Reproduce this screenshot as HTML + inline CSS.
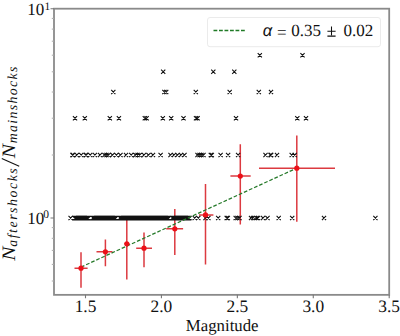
<!DOCTYPE html>
<html><head><meta charset="utf-8"><style>
html,body{margin:0;padding:0;background:#fff;}
svg{display:block;}
text{font-family:"Liberation Serif",serif;font-size:17px;fill:#111;text-rendering:geometricPrecision;}
</style></head><body>
<svg width="400" height="336" viewBox="0 0 400 336">
<path d="M74.5 268.2H87.6M81 252.3V287.7M96.5 251.8H112.5M105.4 239.5V266.3M124.5 243.8H129.5M126.8 218V279.5M136.2 248.2H152M144 232.5V267.2M166.2 228.8H183.1M174.8 209V255M199 214.9H213.4M205.5 184V264.5M230.4 176.1H250.7M240.3 144.3V224.6M259 168.2H335M296.8 135.4V221.8" stroke="#dc3a40" stroke-width="1.5" fill="none"/>
<path d="M68.5 215.9L72.7 220.1M68.5 220.1L72.7 215.9M72.5 215.9L76.7 220.1M72.5 220.1L76.7 215.9M73.5 215.9L77.7 220.1M73.5 220.1L77.7 215.9M74.5 215.9L78.7 220.1M74.5 220.1L78.7 215.9M75.5 215.9L79.7 220.1M75.5 220.1L79.7 215.9M76.5 215.9L80.7 220.1M76.5 220.1L80.7 215.9M77.5 215.9L81.7 220.1M77.5 220.1L81.7 215.9M78.5 215.9L82.7 220.1M78.5 220.1L82.7 215.9M79.5 215.9L83.7 220.1M79.5 220.1L83.7 215.9M80.5 215.9L84.7 220.1M80.5 220.1L84.7 215.9M81.5 215.9L85.7 220.1M81.5 220.1L85.7 215.9M82.5 215.9L86.7 220.1M82.5 220.1L86.7 215.9M83.5 215.9L87.7 220.1M83.5 220.1L87.7 215.9M84.5 215.9L88.7 220.1M84.5 220.1L88.7 215.9M85.5 215.9L89.7 220.1M85.5 220.1L89.7 215.9M86.5 215.9L90.7 220.1M86.5 220.1L90.7 215.9M90.9 215.9L95.1 220.1M90.9 220.1L95.1 215.9M91.9 215.9L96.1 220.1M91.9 220.1L96.1 215.9M92.9 215.9L97.1 220.1M92.9 220.1L97.1 215.9M93.9 215.9L98.1 220.1M93.9 220.1L98.1 215.9M94.9 215.9L99.1 220.1M94.9 220.1L99.1 215.9M95.9 215.9L100.1 220.1M95.9 220.1L100.1 215.9M96.9 215.9L101.1 220.1M96.9 220.1L101.1 215.9M97.9 215.9L102.1 220.1M97.9 220.1L102.1 215.9M98.9 215.9L103.1 220.1M98.9 220.1L103.1 215.9M99.9 215.9L104.1 220.1M99.9 220.1L104.1 215.9M100.9 215.9L105.1 220.1M100.9 220.1L105.1 215.9M101.9 215.9L106.1 220.1M101.9 220.1L106.1 215.9M102.9 215.9L107.1 220.1M102.9 220.1L107.1 215.9M103.9 215.9L108.1 220.1M103.9 220.1L108.1 215.9M104.9 215.9L109.1 220.1M104.9 220.1L109.1 215.9M105.9 215.9L110.1 220.1M105.9 220.1L110.1 215.9M106.9 215.9L111.1 220.1M106.9 220.1L111.1 215.9M107.9 215.9L112.1 220.1M107.9 220.1L112.1 215.9M108.9 215.9L113.1 220.1M108.9 220.1L113.1 215.9M109.9 215.9L114.1 220.1M109.9 220.1L114.1 215.9M110.9 215.9L115.1 220.1M110.9 220.1L115.1 215.9M111.9 215.9L116.1 220.1M111.9 220.1L116.1 215.9M112.9 215.9L117.1 220.1M112.9 220.1L117.1 215.9M113.9 215.9L118.1 220.1M113.9 220.1L118.1 215.9M117.9 215.9L122.1 220.1M117.9 220.1L122.1 215.9M118.9 215.9L123.1 220.1M118.9 220.1L123.1 215.9M119.9 215.9L124.1 220.1M119.9 220.1L124.1 215.9M120.9 215.9L125.1 220.1M120.9 220.1L125.1 215.9M121.9 215.9L126.1 220.1M121.9 220.1L126.1 215.9M122.9 215.9L127.1 220.1M122.9 220.1L127.1 215.9M123.9 215.9L128.1 220.1M123.9 220.1L128.1 215.9M124.9 215.9L129.1 220.1M124.9 220.1L129.1 215.9M125.9 215.9L130.1 220.1M125.9 220.1L130.1 215.9M126.9 215.9L131.1 220.1M126.9 220.1L131.1 215.9M127.9 215.9L132.1 220.1M127.9 220.1L132.1 215.9M128.9 215.9L133.1 220.1M128.9 220.1L133.1 215.9M129.9 215.9L134.1 220.1M129.9 220.1L134.1 215.9M130.9 215.9L135.1 220.1M130.9 220.1L135.1 215.9M131.9 215.9L136.1 220.1M131.9 220.1L136.1 215.9M132.9 215.9L137.1 220.1M132.9 220.1L137.1 215.9M133.9 215.9L138.1 220.1M133.9 220.1L138.1 215.9M134.9 215.9L139.1 220.1M134.9 220.1L139.1 215.9M135.9 215.9L140.1 220.1M135.9 220.1L140.1 215.9M136.9 215.9L141.1 220.1M136.9 220.1L141.1 215.9M137.9 215.9L142.1 220.1M137.9 220.1L142.1 215.9M138.9 215.9L143.1 220.1M138.9 220.1L143.1 215.9M139.9 215.9L144.1 220.1M139.9 220.1L144.1 215.9M140.9 215.9L145.1 220.1M140.9 220.1L145.1 215.9M141.9 215.9L146.1 220.1M141.9 220.1L146.1 215.9M142.9 215.9L147.1 220.1M142.9 220.1L147.1 215.9M143.9 215.9L148.1 220.1M143.9 220.1L148.1 215.9M144.9 215.9L149.1 220.1M144.9 220.1L149.1 215.9M145.9 215.9L150.1 220.1M145.9 220.1L150.1 215.9M146.9 215.9L151.1 220.1M146.9 220.1L151.1 215.9M147.9 215.9L152.1 220.1M147.9 220.1L152.1 215.9M148.9 215.9L153.1 220.1M148.9 220.1L153.1 215.9M149.9 215.9L154.1 220.1M149.9 220.1L154.1 215.9M150.9 215.9L155.1 220.1M150.9 220.1L155.1 215.9M151.9 215.9L156.1 220.1M151.9 220.1L156.1 215.9M152.9 215.9L157.1 220.1M152.9 220.1L157.1 215.9M153.9 215.9L158.1 220.1M153.9 220.1L158.1 215.9M154.9 215.9L159.1 220.1M154.9 220.1L159.1 215.9M155.9 215.9L160.1 220.1M155.9 220.1L160.1 215.9M156.9 215.9L161.1 220.1M156.9 220.1L161.1 215.9M157.9 215.9L162.1 220.1M157.9 220.1L162.1 215.9M158.9 215.9L163.1 220.1M158.9 220.1L163.1 215.9M159.9 215.9L164.1 220.1M159.9 220.1L164.1 215.9M160.9 215.9L165.1 220.1M160.9 220.1L165.1 215.9M161.9 215.9L166.1 220.1M161.9 220.1L166.1 215.9M162.9 215.9L167.1 220.1M162.9 220.1L167.1 215.9M163.9 215.9L168.1 220.1M163.9 220.1L168.1 215.9M164.9 215.9L169.1 220.1M164.9 220.1L169.1 215.9M165.9 215.9L170.1 220.1M165.9 220.1L170.1 215.9M166.9 215.9L171.1 220.1M166.9 220.1L171.1 215.9M170.4 215.9L174.6 220.1M170.4 220.1L174.6 215.9M171.4 215.9L175.6 220.1M171.4 220.1L175.6 215.9M172.4 215.9L176.6 220.1M172.4 220.1L176.6 215.9M173.4 215.9L177.6 220.1M173.4 220.1L177.6 215.9M174.4 215.9L178.6 220.1M174.4 220.1L178.6 215.9M175.4 215.9L179.6 220.1M175.4 220.1L179.6 215.9M176.4 215.9L180.6 220.1M176.4 220.1L180.6 215.9M177.4 215.9L181.6 220.1M177.4 220.1L181.6 215.9M178.4 215.9L182.6 220.1M178.4 220.1L182.6 215.9M179.4 215.9L183.6 220.1M179.4 220.1L183.6 215.9M180.4 215.9L184.6 220.1M180.4 220.1L184.6 215.9M181.4 215.9L185.6 220.1M181.4 220.1L185.6 215.9M182.4 215.9L186.6 220.1M182.4 220.1L186.6 215.9M183.4 215.9L187.6 220.1M183.4 220.1L187.6 215.9M184.4 215.9L188.6 220.1M184.4 220.1L188.6 215.9M185.4 215.9L189.6 220.1M185.4 220.1L189.6 215.9M186.4 215.9L190.6 220.1M186.4 220.1L190.6 215.9M187.4 215.9L191.6 220.1M187.4 220.1L191.6 215.9M192.6 215.9L196.8 220.1M192.6 220.1L196.8 215.9M196.2 215.9L200.4 220.1M196.2 220.1L200.4 215.9M203.4 215.9L207.6 220.1M203.4 220.1L207.6 215.9M206.3 215.9L210.5 220.1M206.3 220.1L210.5 215.9M216.1 215.9L220.3 220.1M216.1 220.1L220.3 215.9M224.6 215.9L228.8 220.1M224.6 220.1L228.8 215.9M225.7 215.9L229.9 220.1M225.7 220.1L229.9 215.9M233.6 215.9L237.8 220.1M233.6 220.1L237.8 215.9M235.4 215.9L239.6 220.1M235.4 220.1L239.6 215.9M237.4 215.9L241.6 220.1M237.4 220.1L241.6 215.9M248.9 215.9L253.1 220.1M248.9 220.1L253.1 215.9M250.9 215.9L255.1 220.1M250.9 220.1L255.1 215.9M252.6 215.9L256.8 220.1M252.6 220.1L256.8 215.9M254.4 215.9L258.6 220.1M254.4 220.1L258.6 215.9M255.9 215.9L260.1 220.1M255.9 220.1L260.1 215.9M260.9 215.9L265.1 220.1M260.9 220.1L265.1 215.9M265.4 215.9L269.6 220.1M265.4 220.1L269.6 215.9M276.6 215.9L280.8 220.1M276.6 220.1L280.8 215.9M290.1 215.9L294.3 220.1M290.1 220.1L294.3 215.9M321.9 215.9L326.1 220.1M321.9 220.1L326.1 215.9M373.3 215.9L377.5 220.1M373.3 220.1L377.5 215.9M70.3 152.9L74.5 157.1M70.3 157.1L74.5 152.9M70.9 152.9L75.1 157.1M70.9 157.1L75.1 152.9M74.8 152.9L78.9 157.1M74.8 157.1L78.9 152.9M79.1 152.9L83.3 157.1M79.1 157.1L83.3 152.9M83.6 152.9L87.8 157.1M83.6 157.1L87.8 152.9M84.2 152.9L88.4 157.1M84.2 157.1L88.4 152.9M88.1 152.9L92.3 157.1M88.1 157.1L92.3 152.9M92.8 152.9L97.0 157.1M92.8 157.1L97.0 152.9M97.9 152.9L102.1 157.1M97.9 157.1L102.1 152.9M102.4 152.9L106.6 157.1M102.4 157.1L106.6 152.9M104.4 152.9L108.6 157.1M104.4 157.1L108.6 152.9M106.4 152.9L110.6 157.1M106.4 157.1L110.6 152.9M110.4 152.9L114.6 157.1M110.4 157.1L114.6 152.9M114.3 152.9L118.5 157.1M114.3 157.1L118.5 152.9M118.4 152.9L122.6 157.1M118.4 157.1L122.6 152.9M123.9 152.9L128.1 157.1M123.9 157.1L128.1 152.9M129.1 152.9L133.3 157.1M129.1 157.1L133.3 152.9M133.4 152.9L137.6 157.1M133.4 157.1L137.6 152.9M135.5 152.9L139.7 157.1M135.5 157.1L139.7 152.9M137.5 152.9L141.7 157.1M137.5 157.1L141.7 152.9M141.9 152.9L146.1 157.1M141.9 157.1L146.1 152.9M146.4 152.9L150.6 157.1M146.4 157.1L150.6 152.9M150.9 152.9L155.1 157.1M150.9 157.1L155.1 152.9M158.5 152.9L162.7 157.1M158.5 157.1L162.7 152.9M168.4 152.9L172.6 157.1M168.4 157.1L172.6 152.9M171.9 152.9L176.1 157.1M171.9 157.1L176.1 152.9M175.4 152.9L179.6 157.1M175.4 157.1L179.6 152.9M178.9 152.9L183.1 157.1M178.9 157.1L183.1 152.9M182.4 152.9L186.6 157.1M182.4 157.1L186.6 152.9M195.4 152.9L199.6 157.1M195.4 157.1L199.6 152.9M197.4 152.9L201.6 157.1M197.4 157.1L201.6 152.9M199.4 152.9L203.6 157.1M199.4 157.1L203.6 152.9M201.4 152.9L205.6 157.1M201.4 157.1L205.6 152.9M208.7 152.9L212.9 157.1M208.7 157.1L212.9 152.9M209.7 152.9L213.9 157.1M209.7 157.1L213.9 152.9M218.5 152.9L222.7 157.1M218.5 157.1L222.7 152.9M226.0 152.9L230.2 157.1M226.0 157.1L230.2 152.9M236.0 152.9L240.2 157.1M236.0 157.1L240.2 152.9M263.4 152.9L267.6 157.1M263.4 157.1L267.6 152.9M268.4 152.9L272.6 157.1M268.4 157.1L272.6 152.9M269.1 152.9L273.3 157.1M269.1 157.1L273.3 152.9M274.9 152.9L279.1 157.1M274.9 157.1L279.1 152.9M289.6 152.9L293.8 157.1M289.6 157.1L293.8 152.9M292.6 152.9L296.8 157.1M292.6 157.1L296.8 152.9M72.9 116.1L77.1 120.3M72.9 120.3L77.1 116.1M82.7 116.1L86.9 120.3M82.7 120.3L86.9 116.1M107.7 116.1L111.9 120.3M107.7 120.3L111.9 116.1M116.8 116.1L121.0 120.3M116.8 120.3L121.0 116.1M142.7 116.1L146.9 120.3M142.7 120.3L146.9 116.1M144.5 116.1L148.7 120.3M144.5 120.3L148.7 116.1M160.7 116.1L164.9 120.3M160.7 120.3L164.9 116.1M169.1 116.1L173.3 120.3M169.1 120.3L173.3 116.1M181.4 116.1L185.6 120.3M181.4 120.3L185.6 116.1M193.9 116.1L198.1 120.3M193.9 120.3L198.1 116.1M195.5 116.1L199.7 120.3M195.5 120.3L199.7 116.1M233.9 116.1L238.1 120.3M233.9 120.3L238.1 116.1M295.2 116.1L299.4 120.3M295.2 120.3L299.4 116.1M303.9 116.1L308.1 120.3M303.9 120.3L308.1 116.1M111.2 89.9L115.4 94.1M111.2 94.1L115.4 89.9M162.3 89.9L166.5 94.1M162.3 94.1L166.5 89.9M164.1 89.9L168.3 94.1M164.1 94.1L168.3 89.9M193.7 89.9L197.9 94.1M193.7 94.1L197.9 89.9M227.6 89.9L231.8 94.1M227.6 94.1L231.8 89.9M256.7 89.9L260.9 94.1M256.7 94.1L260.9 89.9M268.9 89.9L273.1 94.1M268.9 94.1L273.1 89.9M161.1 69.7L165.3 73.9M161.1 73.9L165.3 69.7M211.2 69.7L215.4 73.9M211.2 73.9L215.4 69.7M232.2 69.7L236.4 73.9M232.2 73.9L236.4 69.7M257.7 53.1L261.9 57.3M257.7 57.3L261.9 53.1M300.4 53.1L304.6 57.3M300.4 57.3L304.6 53.1" stroke="#111" stroke-width="1.1" fill="none"/>
<path d="M81 267.1L296.8 168.1" stroke="#267a2a" stroke-width="1.25" stroke-dasharray="3.7 1.9" fill="none"/>
<circle cx="81" cy="268.2" r="2.6" fill="#ec1018"/>
<circle cx="105.4" cy="251.8" r="2.6" fill="#ec1018"/>
<circle cx="126.8" cy="243.8" r="2.6" fill="#ec1018"/>
<circle cx="144" cy="248.2" r="2.6" fill="#ec1018"/>
<circle cx="174.8" cy="228.8" r="2.6" fill="#ec1018"/>
<circle cx="205.5" cy="214.9" r="2.6" fill="#ec1018"/>
<circle cx="240.3" cy="176.1" r="2.6" fill="#ec1018"/>
<circle cx="296.8" cy="168.2" r="2.6" fill="#ec1018"/>
<rect x="54" y="8.7" width="335.2" height="286.15000000000003" fill="none" stroke="#8a8a8a" stroke-width="1.8"/>
<path d="M85.5 294.85V298.35M161.425 294.85V298.35M237.35 294.85V298.35M313.275 294.85V298.35M389.2 294.85V298.35M54 218.0H50.5M54 8.800000000000011H50.5" stroke="#777" stroke-width="1.1" fill="none"/>
<path d="M54 281.0H51.8M54 264.4H51.8M54 250.4H51.8M54 238.3H51.8M54 227.6H51.8M54 155.0H51.8M54 118.2H51.8M54 92.0H51.8M54 71.8H51.8M54 55.2H51.8M54 41.2H51.8M54 29.1H51.8M54 18.4H51.8" stroke="#aaa" stroke-width="1" fill="none"/>
<text x="85.5" y="311.9" text-anchor="middle" style="font-size:17.4px">1.5</text>
<text x="161.425" y="311.9" text-anchor="middle" style="font-size:17.4px">2.0</text>
<text x="237.35" y="311.9" text-anchor="middle" style="font-size:17.4px">2.5</text>
<text x="313.275" y="311.9" text-anchor="middle" style="font-size:17.4px">3.0</text>
<text x="389.2" y="311.9" text-anchor="middle" style="font-size:17.4px">3.5</text>
<text x="27.2" y="15.4" text-anchor="start" style="font-size:17px">10</text>
<text x="44.6" y="10" text-anchor="start" style="font-size:11.5px">1</text>
<text x="27.2" y="223.6" text-anchor="start" style="font-size:17px">10</text>
<text x="43.3" y="218.2" text-anchor="start" style="font-size:11.5px">0</text>
<text x="222.2" y="330.6" text-anchor="middle" style="font-size:16.8px">Magnitude</text>
<text transform="translate(14.6,260.8) rotate(-90)" style="font-size:19px;font-style:italic" textLength="14.2" lengthAdjust="spacingAndGlyphs">N</text>
<text transform="translate(17.4,246.8) rotate(-90)" style="font-size:13.8px;font-style:italic" textLength="78.5" lengthAdjust="spacing">aftershocks</text>
<path d="M19.2 166.3L1.8 158.5" stroke="#111" stroke-width="1.1"/>
<text transform="translate(14.6,158.2) rotate(-90)" style="font-size:19px;font-style:italic" textLength="14.2" lengthAdjust="spacingAndGlyphs">N</text>
<text transform="translate(17.4,143.2) rotate(-90)" style="font-size:13.8px;font-style:italic" textLength="76.5" lengthAdjust="spacing">mainshocks</text>
<rect x="207.5" y="17.5" width="173" height="29.2" rx="2.5" fill="#fff" fill-opacity="0.8" stroke="#ebebeb" stroke-width="1"/>
<path d="M213.5 30.5H246" stroke="#1f7a25" stroke-width="1.4" stroke-dasharray="3.8 1.7"/>
<text x="262.8" y="36.3" text-anchor="start" style="font-size:16.5px"><tspan style="font-style:italic;font-family:Liberation Sans">α</tspan></text>
<text x="277" y="37.6" text-anchor="start" style="font-size:17px">=</text>
<text x="291.2" y="36.4" text-anchor="start" style="font-size:17px">0.35</text>
<path d="M327.4 31.2H335.6M331.5 26.6V35.2M327.4 36.1H335.6" stroke="#111" stroke-width="1.05"/>
<text x="343.6" y="36.4" text-anchor="start" style="font-size:17px">0.02</text>
</svg></body></html>
